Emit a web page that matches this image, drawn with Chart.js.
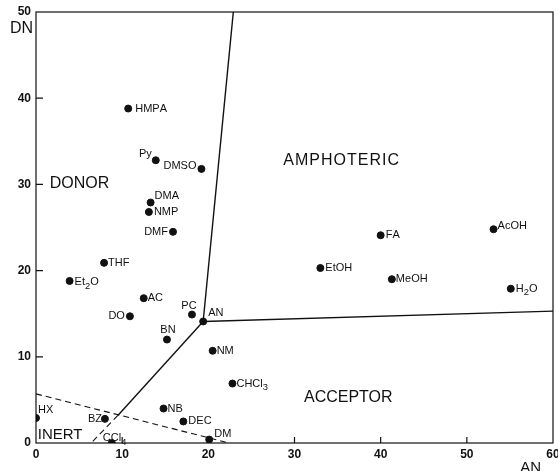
<!DOCTYPE html>
<html>
<head>
<meta charset="utf-8">
<script src="https://cdn.jsdelivr.net/npm/chart.js@4.4.1/dist/chart.umd.min.js"></script>
<style>
  html, body { margin: 0; padding: 0; background: #fff; }
  #wrap { width: 558px; height: 471px; position: relative; }
</style>
</head>
<body>
<div id="wrap"><canvas id="chart"></canvas></div>
<script>
// --- Data ---
// solvents, '_' marks a subscript digit
const solvents = ['HMPA', 'Py', 'DMSO', 'DMA', 'NMP', 'DMF', 'THF', 'Et_2O', 'AC', 'DO',
  'PC', 'AN', 'BN', 'NM', 'CHCl_3', 'NB', 'DEC', 'DM', 'HX', 'BZ', 'CCl_4',
  'FA', 'AcOH', 'EtOH', 'MeOH', 'H_2O'];
const acceptorNumbers = [10.7, 13.9, 19.2, 13.3, 13.1, 15.9, 7.9, 3.9, 12.5, 10.9,
  18.1, 19.4, 15.2, 20.5, 22.8, 14.8, 17.1, 20.1, 0.0, 8.0, 8.8,
  40.0, 53.1, 33.0, 41.3, 55.1];
const donorNumbers = [38.8, 32.8, 31.8, 27.9, 26.8, 24.5, 20.9, 18.8, 16.8, 14.7,
  14.9, 14.1, 12.0, 10.7, 6.9, 4.0, 2.5, 0.4, 2.9, 2.8, 0.0,
  24.1, 24.8, 20.3, 19.0, 17.9];

// region boundaries as [AN, DN]
const donorAmphotericLine = [[19.4, 14.1], [22.9, 50]];
const amphotericAcceptorLine = [[19.4, 14.1], [60, 15.3]];
const donorAcceptorLine = [[19.4, 14.1], [9.5, 3.2]];
const donorAcceptorDashed = [[9.5, 3.2], [6.4, 0]];
const inertLine = [[0, 5.7], [22.4, 0]];

const regionNames = ['DONOR', 'AMPHOTERIC', 'ACCEPTOR', 'INERT'];
const regionAN = [1.6, 28.7, 31.1, 0.2];
const regionDN = [30.1, 32.8, 5.3, 0.9];

const xTicks = [0, 10, 20, 30, 40, 50, 60];
const yTicks = [0, 10, 20, 30, 40, 50];

// label placement next to each dot: [dx, dy, align] in px
const labelPlace = [
  [7, 0, 'left'], [-4, -6, 'right'], [-5, -3, 'right'], [4, -7, 'left'], [5, 0, 'left'],
  [-5, 0, 'right'], [4, 0, 'left'], [5, 1, 'left'], [4, 0, 'left'], [-5, 0, 'right'],
  [-3, -9, 'center'], [5, -8, 'left'], [1, -10, 'center'], [4, 0, 'left'], [4, 0, 'left'],
  [4, 0, 'left'], [5, 0, 'left'], [5, -6, 'left'], [2, -8, 'left'], [-3, 0, 'right'],
  [-9, -5, 'left'], [5, 0, 'left'], [4, -3, 'left'], [5, 0, 'left'], [4, 0, 'left'],
  [5, 0, 'left']
];

const INK = '#111';
const FONT = '"Liberation Sans", Arial, sans-serif';

const toPts = (arr) => arr.map(p => ({ x: p[0], y: p[1] }));

function lineSet(arr, dashed) {
  return {
    type: 'scatter',
    data: toPts(arr),
    showLine: true,
    borderColor: INK,
    borderWidth: dashed ? 1.1 : 1.4,
    borderDash: dashed ? [6, 4] : [],
    pointRadius: 0,
    pointHoverRadius: 0
  };
}

// draws label with '_' subscripts
function drawSubText(ctx, text, x, y, align, size) {
  const parts = [];
  for (let i = 0; i < text.length; i++) {
    if (text[i] === '_') { parts.push({ t: text[i + 1], sub: true }); i++; }
    else parts.push({ t: text[i], sub: false });
  }
  const fontFor = (p) => `${p.sub ? size * 0.85 : size}px ${FONT}`;
  let w = 0;
  parts.forEach(p => { ctx.font = fontFor(p); w += ctx.measureText(p.t).width; });
  let cx = align === 'right' ? x - w : align === 'center' ? x - w / 2 : x;
  ctx.textAlign = 'left';
  ctx.textBaseline = 'middle';
  parts.forEach(p => {
    ctx.font = fontFor(p);
    ctx.fillText(p.t, cx, p.sub ? y + 4 : y);
    cx += ctx.measureText(p.t).width;
  });
}

const annotations = {
  id: 'annotations',
  afterDatasetsDraw(chart) {
    const { ctx, chartArea: a, scales: { x, y } } = chart;
    ctx.save();
    ctx.strokeStyle = INK;
    ctx.fillStyle = INK;

    // frame
    ctx.lineWidth = 1.2;
    ctx.strokeRect(a.left, a.top, a.right - a.left, a.bottom - a.top);

    // inward tick marks
    ctx.beginPath();
    xTicks.slice(1, -1).forEach(v => {
      const px = x.getPixelForValue(v);
      ctx.moveTo(px, a.bottom); ctx.lineTo(px, a.bottom - 6);
    });
    yTicks.slice(1, -1).forEach(v => {
      const py = y.getPixelForValue(v);
      ctx.moveTo(a.left, py); ctx.lineTo(a.left + 7, py);
    });
    ctx.stroke();

    // solvent labels
    solvents.forEach((name, i) => {
      const px = x.getPixelForValue(acceptorNumbers[i]);
      const py = y.getPixelForValue(donorNumbers[i]);
      const [dx, dy, align] = labelPlace[i];
      drawSubText(ctx, name, px + dx, py + dy, align, 11);
    });

    // region labels
    ctx.textAlign = 'left';
    ctx.textBaseline = 'middle';
    regionNames.forEach((name, i) => {
      ctx.font = `${name === 'INERT' ? 15 : 16}px ${FONT}`;
      ctx.letterSpacing = name === 'AMPHOTERIC' ? '1px' : '0px';
      ctx.fillText(name, x.getPixelForValue(regionAN[i]), y.getPixelForValue(regionDN[i]));
    });
    ctx.letterSpacing = '0px';

    // axis titles
    ctx.font = `16px ${FONT}`;
    ctx.textAlign = 'right';
    ctx.fillText('DN', a.left - 3, a.top + 17);
    ctx.font = `15px ${FONT}`;
    ctx.fillText('AN', a.right - 12, a.bottom + 25);
    ctx.restore();
  }
};

new Chart(document.getElementById('chart'), {
  type: 'scatter',
  data: {
    datasets: [
      {
        data: solvents.map((s, i) => ({ x: acceptorNumbers[i], y: donorNumbers[i] })),
        backgroundColor: INK,
        borderColor: INK,
        pointRadius: 3.5,
        pointHoverRadius: 3.5
      },
      lineSet(donorAmphotericLine, false),
      lineSet(amphotericAcceptorLine, false),
      lineSet(donorAcceptorLine, false),
      lineSet(donorAcceptorDashed, true),
      lineSet(inertLine, true)
    ]
  },
  options: {
    responsive: true,
    maintainAspectRatio: false,
    animation: false,
    layout: { autoPadding: false, padding: { top: 12, right: 5, left: 0, bottom: 0 } },
    plugins: { legend: { display: false }, tooltip: { enabled: false } },
    scales: {
      x: {
        type: 'linear', min: 0, max: 60,
        afterBuildTicks: (s) => { s.ticks = xTicks.map(v => ({ value: v })); },
        afterFit: (s) => { s.height = 28; s.paddingLeft = 0; s.paddingRight = 0; },
        grid: { display: false, drawTicks: false },
        border: { display: false },
        ticks: { padding: 4, color: INK, font: { family: FONT, size: 12, weight: 'bold' } }
      },
      y: {
        type: 'linear', min: 0, max: 50,
        afterBuildTicks: (s) => { s.ticks = yTicks.map(v => ({ value: v })); },
        afterFit: (s) => { s.width = 36; s.paddingTop = 0; s.paddingBottom = 0; },
        grid: { display: false, drawTicks: false },
        border: { display: false },
        ticks: { padding: 5, color: INK, font: { family: FONT, size: 12, weight: 'bold' } }
      }
    }
  },
  plugins: [annotations]
});
</script>
</body>
</html>
